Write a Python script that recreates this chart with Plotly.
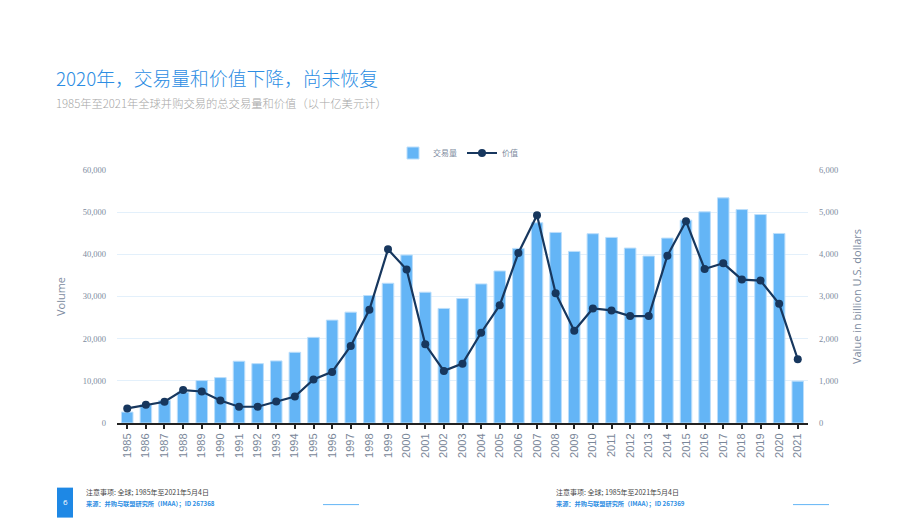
import plotly.graph_objects as go

years = [str(y) for y in range(1985, 2022)]
volume = [2600, 4320, 5340, 7320, 10060, 10770, 14650, 14080, 14720, 16770,
          20310, 24400, 26290, 30240, 33140, 39830, 31020, 27170, 29530, 32980,
          36050, 41410, 47480, 45190, 40700, 44890, 44010, 41480, 39590, 43850,
          48100, 50080, 53390, 50620, 49440, 44950, 9920]
value = [345, 432, 503, 780, 747, 534, 385, 385, 511, 629,
         1031, 1212, 1826, 2685, 4118, 3638, 1866, 1236, 1408, 2141,
         2795, 4031, 4928, 3079, 2188, 2717, 2670, 2535, 2535, 3969,
         4786, 3652, 3787, 3402, 3378, 2826, 1512]

title = "2020年，交易量和价值下降，尚未恢复"
subtitle = "1985年至2021年全球并购交易的总交易量和价值（以十亿美元计）"
note = "注意事项: 全球; 1985年至2021年5月4日"
source1 = "来源：并购与联盟研究所（IMAA）；ID 267368"
source2 = "来源：并购与联盟研究所（IMAA）；ID 267369"
page_no = "6"

W, H = 920, 518
L, R, T, B = 117, 808, 170, 423.3

def px(x):
    return (x - L) / (R - L)

def py(y):
    return (B - y) / (B - T)

CJK = "Noto Sans CJK SC"

fig = go.Figure()
fig.add_trace(go.Bar(
    x=years, y=volume, name="交易量",
    marker=dict(color="#64b5f6", line=dict(color="#bbdefb", width=1)),
    width=0.62, yaxis="y"))
fig.add_trace(go.Scatter(
    x=years, y=value, name="价值", mode="lines+markers",
    line=dict(color="#17375e", width=2.2),
    marker=dict(color="#17375e", size=8), yaxis="y2"))

tickfont_num = dict(family="Liberation Serif", size=8.5, color="#7d8ba0")

fig.update_layout(
    width=W, height=H,
    margin=dict(l=L, r=W - R, t=T, b=H - B),
    paper_bgcolor="white", plot_bgcolor="white",
    bargap=0.38,
    showlegend=True,
    legend=dict(orientation="h", x=px(393), y=py(153), xanchor="left", yanchor="middle",
                font=dict(family=CJK, size=8, color="#7d8ba0"),
                itemwidth=30, tracegroupgap=0, bgcolor="rgba(0,0,0,0)"),
    xaxis=dict(type="category", showgrid=False, showline=True, linecolor="#222222",
               linewidth=2, ticks="outside", ticklen=4, tickcolor="#222222", tickwidth=1.5,
               tickangle=-90, tickfont=dict(family="Liberation Sans", size=11, color="#7a8799"),
               range=[-0.55, 36.55]),
    yaxis=dict(range=[0, 60000], dtick=10000, tickformat=",", gridcolor="#e3f0fb",
               gridwidth=1, zeroline=False, showline=False, tickfont=tickfont_num,
               ticklabelstandoff=10,
               title=dict(text="Volume", font=dict(family="Open Sans", size=11, color="#7d8ba0"),
                          standoff=14)),
    yaxis2=dict(range=[0, 6000], dtick=1000, tickformat=",", overlaying="y", side="right",
                showgrid=False, zeroline=False, showline=False, tickfont=tickfont_num,
                ticklabelstandoff=10,
                title=dict(text="Value in billion U.S. dollars",
                           font=dict(family="Open Sans", size=11, color="#7d8ba0"),
                           standoff=16)),
    font=dict(family=CJK),
)

ann = []
ann.append(dict(text=title, x=px(54), y=py(77), xref="paper", yref="paper",
                xanchor="left", yanchor="middle", showarrow=False,
                font=dict(family=CJK, size=18.8, color="#2b8de3", weight=300)))
ann.append(dict(text=subtitle, x=px(54), y=py(103), xref="paper", yref="paper",
                xanchor="left", yanchor="middle", showarrow=False,
                font=dict(family=CJK, size=11.3, color="#a6a6a6", weight=300)))
for x0, src in [(84, source1), (554, source2)]:
    ann.append(dict(text=note, x=px(x0), y=py(492.5), xref="paper", yref="paper",
                    xanchor="left", yanchor="middle", showarrow=False,
                    font=dict(family=CJK, size=7, color="#444444")))
    ann.append(dict(text="<b>" + src + "</b>", x=px(x0), y=py(504), xref="paper", yref="paper",
                    xanchor="left", yanchor="middle", showarrow=False,
                    font=dict(family=CJK, size=6.2, color="#2b8de3")))
ann.append(dict(text=page_no, x=px(65), y=py(502), xref="paper", yref="paper",
                xanchor="center", yanchor="middle", showarrow=False,
                font=dict(family="Open Sans", size=8, color="white")))

shapes = [
    dict(type="rect", xref="paper", yref="paper", x0=px(57), x1=px(73), y0=py(488), y1=py(518),
         fillcolor="#1e88e5", line=dict(width=0), layer="above"),
    dict(type="line", xref="paper", yref="paper", x0=px(323), x1=px(359), y0=py(505), y1=py(505),
         line=dict(color="#64b5f6", width=1)),
    dict(type="line", xref="paper", yref="paper", x0=px(793), x1=px(829), y0=py(505), y1=py(505),
         line=dict(color="#64b5f6", width=1)),
]

fig.update_layout(annotations=ann, shapes=shapes)
fig.write_html("out.html")
